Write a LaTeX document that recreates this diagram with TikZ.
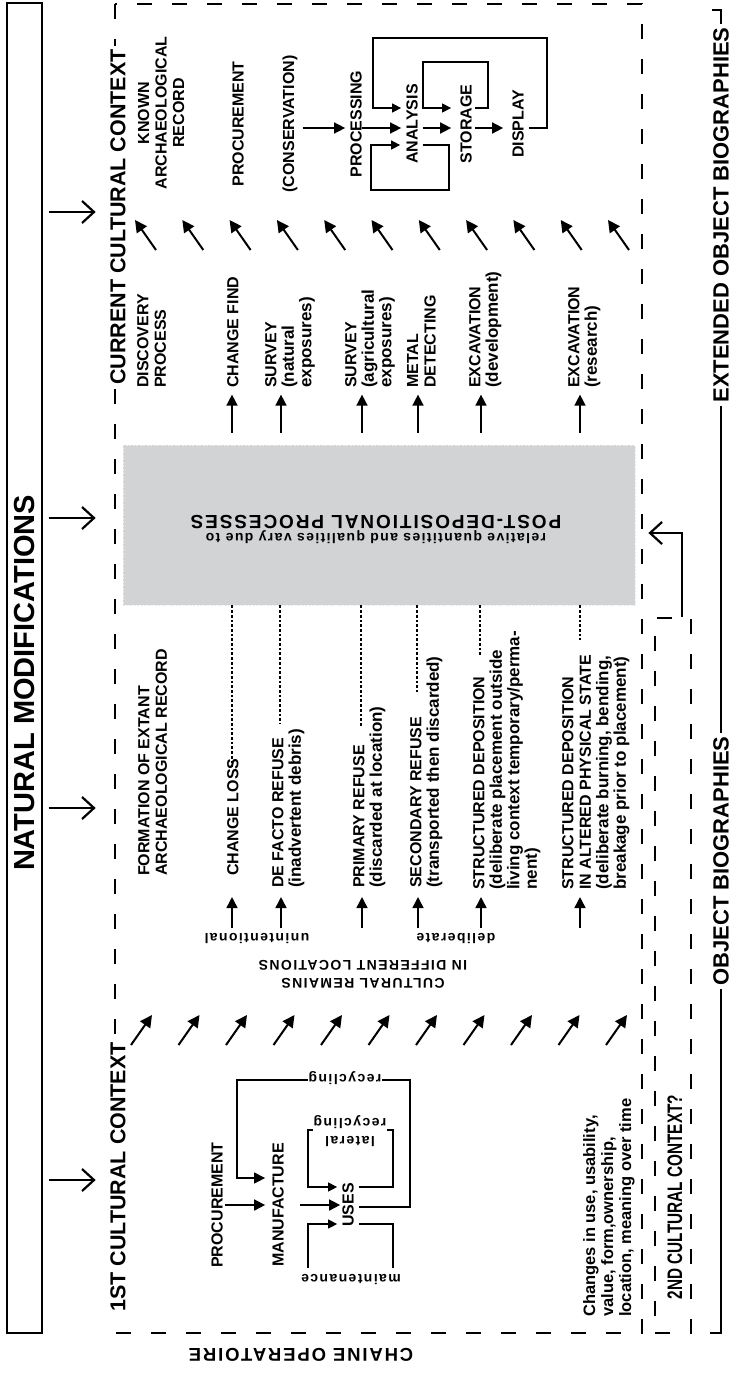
\documentclass[tikz,border=0pt]{standalone}
\usepackage{fontspec}
\setmainfont{Liberation Sans}
\newfontfamily\spaced[LetterSpace=10]{Liberation Sans}
\usetikzlibrary{arrows.meta, positioning, calc}
\definecolor{boxgray}{RGB}{209,211,212}
\newcommand{\lc}{\fontsize{17}{17.5}\selectfont}

\tikzset{
  vtext/.style={rotate=90, inner sep=0pt, align=center,
    font=\fontsize{16}{17.5}\selectfont\bfseries},
  lbl/.style={vtext, align=left, anchor=north west},
  fliptext/.style={rotate=180, inner sep=0pt, align=center,
    font=\fontsize{14}{18}\spaced\bfseries},
  headline/.style={rotate=90, fill=white, inner sep=3pt,
    font=\fontsize{21.5}{24}\selectfont\bfseries},
  dashframe/.style={line width=2pt, dash pattern=on 15pt off 20pt},
  thin line/.style={line width=1.2pt},
  tri/.style={line width=1.6pt, -{Triangle[length=11pt,width=11pt]}},
  loop arrow/.style={line width=1.2pt, -{Triangle[length=9pt,width=9pt]}},
  big arrow/.style={line width=2.2pt, -{Straight Barb[length=12pt,width=22pt]}},
  dot line/.style={line width=2pt, dash pattern=on 2.7pt off 2pt},
  diag/.style={line width=2pt, -{Triangle[length=12pt,width=12pt]}},
  postbox/.style={fill=boxgray, draw=gray!15, dash pattern=on 2pt off 1.5pt,
    line width=0.8pt, inner sep=0pt},
}

\begin{document}
\begin{tikzpicture}[x=1pt, y=-1pt]
\useasboundingbox (0,0) rectangle (731,1373);

% natural modifications
\node[draw, line width=1.3pt, minimum width=35pt, minimum height=1330pt, inner sep=0pt] (natbox) at (24.5,668) {};
\node[rotate=90, font=\fontsize{29}{31}\selectfont\bfseries] (natmod) at (25,683) {NATURAL MODIFICATIONS};
\foreach \y in {212,518,808,1180}
  \draw[big arrow] (natbox.east |- 0,\y) ++(6,0) -- ++(47,0);

% frame
\draw[dashframe] (115,4) rectangle (642,1333);
\node[headline] (current) at (118,217) {CURRENT CULTURAL CONTEXT};
\node[headline] (first) at (118,1177) {1ST CULTURAL CONTEXT};

% post-depositional processes
\node[postbox, minimum width=512pt, minimum height=160pt] (post) at (379,525) {};
\node[fliptext] (posttxt) at (376,529) {relative quantities and qualities vary due to\\{\fontsize{19}{20}\selectfont POST-DEPOSITIONAL PROCESSES}};

% current cultural context
\node[lbl] (discovery) at (137,388) {DISCOVERY\\PROCESS};
\node[vtext] (known) at (161,113) {KNOWN\\ARCHAEOLOGICAL\\RECORD};
\node[lbl] (chfind) at (227,388) {CHANGE FIND};
\node[lbl] (survnat) at (265,388) {SURVEY\\\lc(natural\\\lc exposures)};
\node[lbl] (survagr) at (345,388) {SURVEY\\\lc(agricultural\\\lc exposures)};
\node[lbl] (metal) at (407,388) {METAL\\DETECTING};
\node[lbl] (excdev) at (469,388) {EXCAVATION\\\lc(development)};
\node[lbl] (excres) at (568,388) {EXCAVATION\\\lc(research)};

% museum chain
\node[vtext] (procure) at (238,124) {PROCUREMENT};
\node[vtext] (conserv) at (290,124) {(CONSERVATION)};
\node[vtext] (processing) at (356,124) {PROCESSING};
\node[vtext] (analysis) at (412,124) {ANALYSIS};
\node[vtext] (storage) at (466,124) {STORAGE};
\node[vtext] (display) at (518,124) {DISPLAY};
\draw[tri, shorten <=5pt, shorten >=5pt] (conserv.south |- 0,128) -- (processing.north |- 0,128);
\draw[tri, shorten >=5pt] (processing.south |- 0,128) -- (analysis.north |- 0,128);
\draw[tri, shorten <=5pt, shorten >=9pt] (analysis.south |- 0,128) -- (storage.north |- 0,128);
\draw[tri, shorten <=3pt, shorten >=9pt] (storage.south |- 0,128) -- (display.north |- 0,128);
\draw[loop arrow, shorten <=5pt, shorten >=5pt] (display.south |- 0,128) -| (547,38) -| (373,108) -- (analysis.north |- 0,108);
\draw[loop arrow, shorten <=3pt, shorten >=9pt] (storage.south |- 0,108) -| (488,62) -| (423,108) -- (storage.north |- 0,108);
\draw[loop arrow, shorten <=5pt, shorten >=6pt] (analysis.south |- 0,145) -| (449,190) -| (371,145) -- (analysis.north |- 0,145);

% diagonal arrows
\foreach \i in {0,...,10} {
  \draw[diag] ({156+47.3*\i},250) -- ++(-21,-30);
  \draw[diag] ({131+47.5*\i},1045) -- ++(21,-30);
}

% columns
\foreach \x in {232,281,362,418,481,580} {
  \draw[tri] (post.north -| \x,0) ++(0,-12) -- ++(0,-38);
  \draw[tri] (\x,928) -- (\x,897);
}
\foreach \x/\e in {232/767, 280/723, 361/727, 417/692, 480/657, 580/640}
  \draw[dot line] (post.south -| \x,0) -- (\x,\e);

% formation of extant record
\node[lbl] (formation) at (138,876) {FORMATION OF EXTANT\\ARCHAEOLOGICAL RECORD};
\node[lbl] (chloss) at (227,876) {CHANGE LOSS};
\node[lbl] (defacto) at (272,888) {DE FACTO REFUSE\\\lc(inadvertent debris)};
\node[lbl] (primary) at (353,888) {PRIMARY REFUSE\\\lc(discarded at location)};
\node[lbl] (secondary) at (410,888) {SECONDARY REFUSE\\\lc(transported then discarded)};
\node[lbl] (structa) at (473,890) {STRUCTURED DEPOSITION\\\lc(deliberate placement outside\\\lc living context temporary/perma-\\\lc nent)};
\node[lbl] (structb) at (562,890) {STRUCTURED DEPOSITION\\IN ALTERED PHYSICAL STATE\\\lc(deliberate burning, bending,\\\lc breakage prior to placement)};
\node[fliptext] (unint) at (257,938) {unintentional};
\node[fliptext] (delib) at (456,938) {deliberate};
\node[fliptext] (remains) at (363,974) {CULTURAL REMAINS\\IN DIFFERENT LOCATIONS};

% chaine operatoire
\node[vtext] (procurelow) at (217,1205) {PROCUREMENT};
\node[vtext] (manuf) at (278,1205) {MANUFACTURE};
\node[vtext] (uses) at (348,1205) {USES};
\draw[tri, shorten <=2pt, shorten >=7pt] (procurelow.south) -- (manuf.north);
\draw[tri, shorten <=16pt, shorten >=2pt] (manuf.south) -- (uses.north);
\draw[thin line, -{Triangle[length=11pt,width=11pt]}, shorten <=5pt, shorten >=7pt] (uses.south |- 0,1207) -| (410,1080) -| (237,1178) -- (manuf.north |- 0,1178);
\node[fliptext, fill=white, inner sep=1pt] (recyc) at (345,1078) {recycling};
\draw[loop arrow, shorten <=5pt, shorten >=5pt] (uses.south |- 0,1187) -| (393,1130) -| (308,1187) -- (uses.north |- 0,1187);
\node[fliptext, fill=white, inner sep=1pt] (lateral) at (350,1131) {lateral\\recycling};
\draw[thin line, shorten <=5pt] (uses.south |- 0,1224) -| (393,1268);
\draw[loop arrow, shorten >=5pt] (308,1268) |- (uses.north |- 0,1224);
\node[fliptext] (maint) at (351,1279) {maintenance};
\node[lbl, font=\fontsize{16.5}{18}\selectfont\bfseries] (changes) at (583,1317) {Changes in use, usability,\\value, form,ownership,\\location, meaning over time};

% second cultural context
\node[draw, dashframe, minimum width=36pt, minimum height=715pt, inner sep=0pt] (ctx2) at (673,975.5) {};
\node[rotate=90, font=\fontsize{21}{23}\selectfont\bfseries] (ctx2txt) at (675,1197) {\scalebox{0.73}[1]{2ND CULTURAL CONTEXT?}};
\draw[big arrow, shorten >=13pt] (ctx2.north -| 682,0) |- (post.east |- 0,533);

% biographies
\draw[line width=1.3pt] (712,10) -| (721,1333) -- (710,1333);
\draw[line width=1.3pt] (721,737) -- (730,737);
\node[headline, font=\fontsize{22}{24}\selectfont\bfseries] (extbio) at (721,215) {EXTENDED OBJECT BIOGRAPHIES};
\node[headline, font=\fontsize{22}{24}\selectfont\bfseries] (objbio) at (721,861) {OBJECT BIOGRAPHIES};

\node[fliptext, font=\fontsize{18.5}{20}\spaced\bfseries] (chaine) at (301,1355) {CHAINE OPERATOIRE};
\end{tikzpicture}
\end{document}
